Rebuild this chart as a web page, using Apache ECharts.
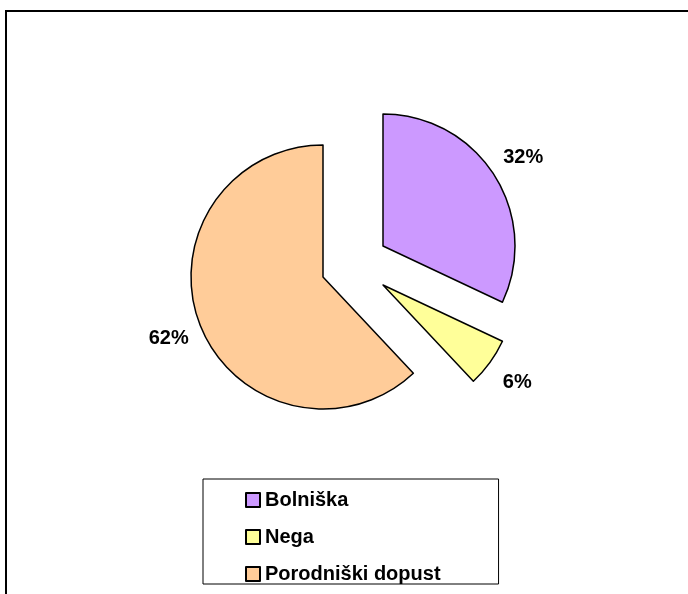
<html>
<head>
<meta charset="utf-8">
<title>Odsotnost</title>
<script src="https://cdn.jsdelivr.net/npm/echarts@6/dist/echarts.min.js"></script>
<style>
body { margin: 0; background: #fff; }
#chart { width: 688px; height: 594px; }
</style>
</head>
<body>
<div id="chart"></div>
<script>
// podatki
var names = ['Bolniška', 'Nega', 'Porodniški dopust'];
var values = [32, 6, 62];
var colors = ['#CC99FF', '#FFFF99', '#FFCC99'];

// odmik posameznih izsekov (eksplodirana torta)
var centers = [[383, 246], [383, 285], [323, 277]];

var total = values.reduce(function (a, b) { return a + b; }, 0);
var FONT = '"Liberation Sans", Arial, sans-serif';

var slices = [];
var labels = [];
var before = 0;
for (var i = 0; i < names.length; i++) {
	var start = 90 - 360 * before / total;
	before += values[i];
	// izsek
	slices.push({
		type: 'pie',
		center: centers[i],
		radius: 132,
		startAngle: start,
		clockwise: true,
		silent: true,
		animation: false,
		avoidLabelOverlap: false,
		label: { show: false },
		labelLine: { show: false },
		itemStyle: { borderColor: '#000', borderWidth: 1.5 },
		data: [
			{ name: names[i], value: values[i], itemStyle: { color: colors[i] } },
			{ name: '', value: total - values[i], itemStyle: { color: 'rgba(0,0,0,0)', borderWidth: 0 } }
		]
	});
	// nevidni obroč, ki nosi oznako odstotka
	labels.push({
		type: 'pie',
		center: centers[i],
		radius: [151, 175],
		startAngle: start,
		clockwise: true,
		silent: true,
		animation: false,
		avoidLabelOverlap: false,
		labelLine: { show: false },
		itemStyle: { color: 'rgba(0,0,0,0)', borderWidth: 0 },
		label: {
			show: true, position: 'inside', formatter: '{d}%',
			color: '#000', fontSize: 20, fontWeight: 'bold', fontFamily: FONT
		},
		data: [
			{ name: names[i], value: values[i] },
			{ name: '', value: total - values[i], label: { show: false } }
		]
	});
}

var myChart = echarts.init(document.getElementById('chart'));
myChart.setOption({
	backgroundColor: '#fff',
	animation: false,
	graphic: [{
		type: 'rect',
		shape: { x: 6, y: 11, width: 720, height: 620 },
		style: { fill: 'none', stroke: '#000', lineWidth: 2 },
		silent: true
	}],
	legend: {
		orient: 'vertical',
		left: 203,
		top: 479,
		data: names,
		icon: 'rect',
		itemWidth: 14,
		itemHeight: 14,
		itemGap: 17,
		padding: [11, 58, 0, 42],
		borderColor: '#000',
		borderWidth: 1,
		selectedMode: false,
		textStyle: { color: '#000', fontSize: 20, fontWeight: 'bold', fontFamily: FONT }
	},
	series: slices.concat(labels)
});
</script>
</body>
</html>
